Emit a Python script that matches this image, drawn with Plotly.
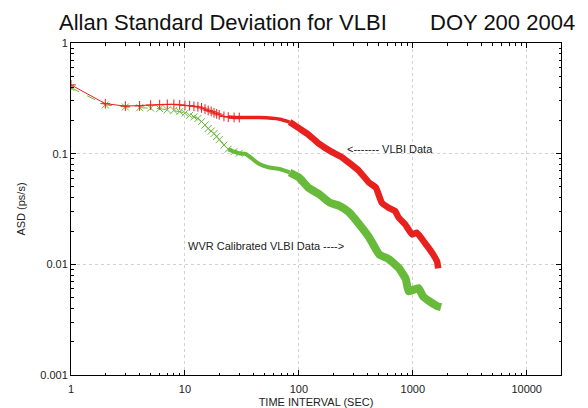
import plotly.graph_objects as go

# ---- data ----
tau_vlbi = [1, 2, 3, 4, 5, 6, 7, 8, 9, 10, 11, 12, 13, 14, 15, 16, 17, 18, 19, 20,
            22, 24, 27, 30, 45, 68, 83, 100, 122, 151, 186, 240, 274, 337, 413, 474,
            534, 612, 700, 752, 856, 986, 1084, 1308, 1476, 1634, 1670]
asd_vlbi = [0.418, 0.283, 0.269, 0.270, 0.275, 0.277, 0.279, 0.279, 0.276, 0.273,
            0.2715, 0.268, 0.265, 0.259, 0.253, 0.246, 0.241, 0.234, 0.229, 0.224,
            0.217, 0.214, 0.2125, 0.212, 0.212, 0.205, 0.193, 0.170, 0.148, 0.1225,
            0.1065, 0.0925, 0.0833, 0.070, 0.0548, 0.0494, 0.0361, 0.0325, 0.0303,
            0.0264, 0.023, 0.0186, 0.0193, 0.0151, 0.0127, 0.0106, 0.0092]

tau_wvr = [1, 2, 3, 4, 5, 6, 7, 8, 9, 10, 11, 12, 13, 14, 15, 16, 17, 18, 19, 20,
           22, 24, 27, 30, 34, 45, 55, 68, 83, 100, 122, 151, 186, 227, 274, 337, 413,
           507, 619, 752, 867, 921, 1120, 1235, 1415, 1634, 1770]
asd_wvr = [0.395, 0.276, 0.264, 0.260, 0.258, 0.255, 0.249, 0.246, 0.240, 0.232,
           0.2215, 0.215, 0.208, 0.195, 0.1816, 0.1687, 0.160, 0.152, 0.1428, 0.134,
           0.1195, 0.110, 0.1043, 0.101, 0.0994, 0.0806, 0.075, 0.0726, 0.0676,
           0.061, 0.049, 0.043, 0.0362, 0.0337, 0.0297, 0.0232, 0.0176, 0.0123,
           0.0111, 0.0093, 0.0074, 0.0057, 0.0061, 0.0051, 0.0046, 0.0042, 0.0041]

x_tickvals = [1, 10, 100, 1000, 10000]
x_ticktext = ["1", "10", "100", "1000", "10000"]
y_tickvals = [0.001, 0.01, 0.1, 1]
y_ticktext = ["0.001", "0.01", "0.1", "1"]

RED = "rgb(232,32,30)"
GREEN = "rgb(104,186,58)"
FONT = "Liberation Sans, Arial, sans-serif"

W, H = 588, 408
L, R, T, B = 71, 27, 43, 33

fig = go.Figure()


def add_series(tau, asd, color, symbol, dash, w_mid, w_dense):
    n_sparse = next(i for i, t in enumerate(tau) if t >= 30) + 1
    n_mid = next(i for i, t in enumerate(tau) if t >= 83) + 1
    # medium dense part
    fig.add_trace(go.Scatter(
        x=tau[n_sparse - 3:n_mid], y=asd[n_sparse - 3:n_mid], mode="lines",
        line=dict(color=color, width=w_mid, shape="spline", smoothing=0.6),
        showlegend=False, hoverinfo="skip"))
    # very dense part (markers merge into a thick band)
    fig.add_trace(go.Scatter(
        x=tau[n_mid - 1:], y=asd[n_mid - 1:], mode="lines",
        line=dict(color=color, width=w_dense, shape="spline", smoothing=0.4),
        showlegend=False, hoverinfo="skip"))
    # sparse part: thin line with markers
    fig.add_trace(go.Scatter(
        x=tau[:n_sparse], y=asd[:n_sparse], mode="lines+markers",
        line=dict(color=color, width=1, dash=dash),
        marker=dict(symbol=symbol, size=7, color=color, line=dict(color=color, width=1)),
        showlegend=False, hoverinfo="skip"))


add_series(tau_wvr, asd_wvr, GREEN, "x-thin", "dash", 4, 8)
add_series(tau_vlbi, asd_vlbi, RED, "cross-thin", "solid", 3.5, 6.5)

axis_common = dict(
    showline=True, linecolor="black", linewidth=1, mirror="ticks",
    ticks="inside", ticklen=5, tickcolor="black",
    showgrid=True, gridcolor="#d2d2d2", griddash="dot", gridwidth=1,
    zeroline=False, automargin=False,
    tickfont=dict(family=FONT, size=11, color="#222"),
)

x_minor = [m * 10 ** k for k in range(0, 5) for m in range(2, 10) if m * 10 ** k < 20000]
y_minor = [m * 10 ** k for k in range(-3, 0) for m in range(2, 10)]

fig.update_xaxes(type="log", range=[0, 4.30103], tickvals=x_tickvals, ticktext=x_ticktext,
                 ticklabelstandoff=4,
                 minor=dict(tickvals=x_minor, ticks="inside", ticklen=2.5, tickcolor="black",
                            showgrid=False),
                 title=dict(text="TIME INTERVAL (SEC)", standoff=4,
                            font=dict(family=FONT, size=11, color="#222")),
                 **axis_common)
fig.update_yaxes(type="log", range=[-3, 0], tickvals=y_tickvals, ticktext=y_ticktext,
                 minor=dict(tickvals=y_minor, ticks="inside", ticklen=2.5, tickcolor="black",
                            showgrid=False),
                 title=dict(text="ASD (ps/s)", standoff=12,
                            font=dict(family=FONT, size=11, color="#222")),
                 **axis_common)

pw = W - L - R
ph = H - T - B


def px2paper_x(px):
    return (px - L) / pw


def px2paper_y(py):
    return (H - B - py) / ph


fig.update_layout(
    width=W, height=H,
    margin=dict(l=L, r=R, t=T, b=B),
    paper_bgcolor="white", plot_bgcolor="white",
    annotations=[
        dict(text="Allan Standard Deviation for VLBI", xref="paper", yref="paper",
             x=px2paper_x(57), y=px2paper_y(23), xanchor="left", yanchor="middle",
             showarrow=False, font=dict(family=FONT, size=22, color="#111")),
        dict(text="DOY 200 2004", xref="paper", yref="paper",
             x=px2paper_x(577), y=px2paper_y(23), xanchor="right", yanchor="middle",
             showarrow=False, font=dict(family=FONT, size=22, color="#111")),
        dict(text="<------- VLBI Data", xref="paper", yref="paper",
             x=px2paper_x(345), y=px2paper_y(149), xanchor="left", yanchor="middle",
             showarrow=False, font=dict(family=FONT, size=11, color="#222")),
        dict(text="WVR Calibrated VLBI Data ---->", xref="paper", yref="paper",
             x=px2paper_x(186), y=px2paper_y(246), xanchor="left", yanchor="middle",
             showarrow=False, font=dict(family=FONT, size=11, color="#222")),
    ],
)

fig.write_html("out.html")
